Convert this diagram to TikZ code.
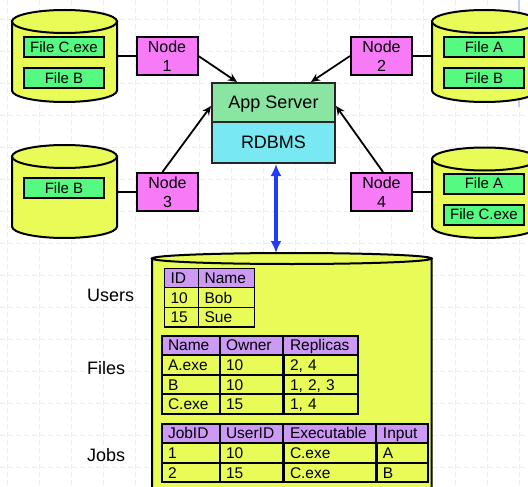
\documentclass[tikz,border=0pt]{standalone}
\usepackage{fontspec}
\setmainfont{Liberation Sans}
\usetikzlibrary{arrows.meta,matrix}

\definecolor{drumyellow}{HTML}{E9FB57}
\definecolor{filegreen}{HTML}{55FA80}
\definecolor{hostpink}{HTML}{F77BF7}
\definecolor{appgreen}{HTML}{8AE5A3}
\definecolor{rdbcyan}{HTML}{78E8F2}
\definecolor{hdrlilac}{HTML}{CC99F5}
\definecolor{linkblue}{HTML}{1F3BFF}
\definecolor{gridblue}{HTML}{E6ECFC}
\definecolor{gridaccent}{HTML}{C3CFF5}

\newcommand\tabfont{\fontsize{15.5}{18}\selectfont\hyphenpenalty=10000 }

% a vertical storage drum: left x, right x, top rim y, bottom rim y, rim half-height
\newcommand\storagedrum[5]{%
  \pgfmathsetmacro\drumrx{(#2-#1)/2}%
  \pgfmathsetmacro\drumcx{(#1+#2)/2}%
  \filldraw[drumline] (#1,#3) -- (#1,#4)
    arc[start angle=180,end angle=360,x radius=\drumrx pt,y radius=#5 pt]
    -- (#2,#3) -- cycle;
  \filldraw[drumline] (\drumcx,#3) ellipse[x radius=\drumrx pt,y radius=#5 pt];
}

\begin{document}
\begin{tikzpicture}[x=1pt,y=1pt,
  gridline/.style={draw=gridblue,line width=0.8pt,dash pattern=on 5pt off 3pt},
  drumline/.style={draw=black,fill=drumyellow,line width=2pt},
  filebox/.style={draw=black,fill=filegreen,line width=2pt,minimum width=80pt,
    minimum height=20pt,inner sep=0pt,font=\fontsize{15}{18}\selectfont},
  hostbox/.style={draw=black,fill=hostpink,line width=2pt,minimum width=61pt,
    minimum height=38pt,inner sep=0pt,align=center,font=\fontsize{16}{19}\selectfont},
  tier/.style={draw=black!85,line width=2pt,minimum width=123pt,inner sep=0pt,
    text height=13pt,text depth=0pt,font=\fontsize{18}{21}\selectfont},
  wire/.style={draw=black,line width=1.8pt},
  feed/.style={draw=black,line width=1.8pt,-{Stealth[length=9pt,width=8pt]}},
  link/.style={draw=linkblue,line width=3.4pt,{Latex[length=12pt,width=11pt]}-{Latex[length=12pt,width=11pt]}},
  tbl/.style={matrix of nodes,inner sep=0pt,outer sep=0pt,line width=#1,
    column sep=-#1,row sep=-#1,
    nodes={draw=black,line width=#1,inner xsep=6.5pt,inner ysep=0pt,
      minimum height=19.6pt,align=left,anchor=center,
      text height=13pt,text depth=2pt,font=\tabfont},
    row 1/.style={nodes={fill=hdrlilac}}},
  lbl/.style={inner sep=0pt,anchor=base west,font=\fontsize{18}{21}\selectfont}]

\useasboundingbox (0,0) rectangle (528,-487);
\clip (0,0) rectangle (528,-487);

% background grid
\foreach \gx in {7,39,...,519} \draw[gridline] (\gx,0) -- (\gx,-487);
\foreach \gy in {19,51,...,467} \draw[gridline] (0,-\gy) -- (528,-\gy);
\draw[gridaccent,line width=1.4pt] (519,0) -- (519,-107);

% worker disks
\storagedrum{12}{117}{-21.5}{-90.5}{11.5}
\storagedrum{432}{537}{-21.5}{-90.5}{11.5}
\storagedrum{12}{117}{-156.5}{-226.5}{11.5}
\storagedrum{432}{537}{-159}{-226.5}{11.5}

\coordinate (d1) at (117,-56);
\coordinate (d2) at (432,-56);
\coordinate (d3) at (117,-192);
\coordinate (d4) at (432,-192);

\node[filebox] (f1a) at (64,-47.5) {File C.exe};
\node[filebox] (f1b) at (64,-78) {File B};
\node[filebox] (f2a) at (484,-47.5) {File A};
\node[filebox] (f2b) at (484,-78) {File B};
\node[filebox] (f3a) at (64,-188) {File B};
\node[filebox] (f4a) at (484,-183.5) {File A};
\node[filebox] (f4b) at (484,-214.5) {File C.exe};

% worker nodes
\node[hostbox] (n1) at (167,-56) {Node\\1};
\node[hostbox] (n2) at (381.5,-56) {Node\\2};
\node[hostbox] (n3) at (167.5,-192) {Node\\3};
\node[hostbox] (n4) at (381.5,-192) {Node\\4};

\draw[wire] (d1) -- (n1.west);
\draw[wire] (d2) -- (n2.east);
\draw[wire] (d3) -- (n3.west);
\draw[wire] (d4) -- (n4.east);

% server stack
\node[tier,fill=appgreen,minimum height=39pt] (app) at (273.5,-102.5) {App Server};
\node[tier,fill=rdbcyan,minimum height=41pt] (rdb) at (273.5,-142.5) {RDBMS};

\draw[feed] (n1.east) -- ([xshift=26pt]app.north west);
\draw[feed] (n2.west) -- ([xshift=-25pt]app.north east);
\draw[feed] ([xshift=-5pt]n3.north) -- ([yshift=-24pt]app.north west);
\draw[feed] ([xshift=1.5pt]n4.north) -- ([yshift=-24pt]app.north east);

% database
\storagedrum{152}{431.5}{-258.5}{-520}{5.5}
\coordinate (dbtop) at (276,-253);
\draw[link] ([xshift=2.5pt]rdb.south) -- (dbtop);

\matrix (users) [tbl=1.2pt,anchor=north west,
  column 1/.style={nodes={text width=21pt}},
  column 2/.style={nodes={text width=43pt}}] at (163.5,-267.5) {
  ID & Name \\
  10 & Bob \\
  15 & Sue \\
};

\matrix (files) [tbl=2pt,anchor=north west,
  column 1/.style={nodes={text width=45pt}},
  column 2/.style={nodes={text width=51pt}},
  column 3/.style={nodes={text width=61pt}}] at (160.5,-334.5) {
  Name & Owner & Replicas \\
  A.exe & 10 & 2, 4 \\
  B & 10 & 1, 2, 3 \\
  C.exe & 15 & 1, 4 \\
};

\matrix (jobs) [tbl=2pt,anchor=north west,
  column 1/.style={nodes={text width=45pt}},
  column 2/.style={nodes={text width=51pt}},
  column 3/.style={nodes={text width=80pt}},
  column 4/.style={nodes={text width=38pt}}] at (160.5,-422.5) {
  JobID & UserID & Executable & Input \\
  1 & 10 & C.exe & A \\
  2 & 15 & C.exe & B \\
};

\node[lbl] (lusers) at (87,-301) {Users};
\node[lbl] (lfiles) at (87,-374) {Files};
\node[lbl] (ljobs) at (87,-461) {Jobs};

\end{tikzpicture}
\end{document}
